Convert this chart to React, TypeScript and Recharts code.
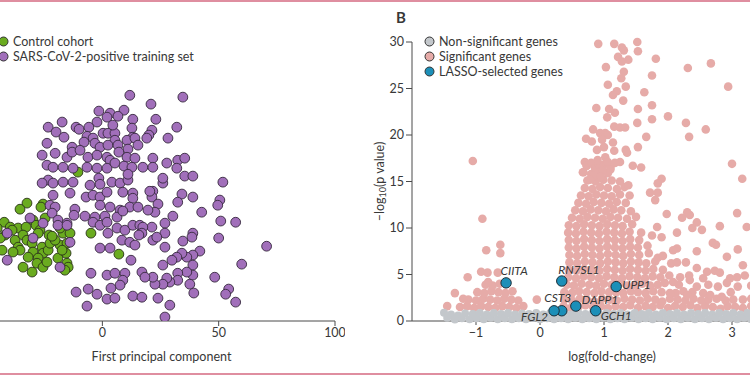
import { ScatterChart, Scatter, XAxis, YAxis } from 'recharts'

const FONT = 'Lato, "Open Sans", sans-serif'
const INK = '#383838'
const AXIS = '#4a4a4a'

// panel A: PCA, first principal component (x) vs second (y, axis cut off)
const pcaTicks = [0, 50, 100]

const controlCohort: [number, number][] = [
  [-10.5, 24.9], [-32.4, 11.6], [-25.5, 11.2], [-26.4, 9.9], [-42.2, 3.4], [-39.6, 1.3], [-36.2, 0.9],
  [-32.8, 1.3], [-29.8, 4.3], [-28.5, 2.1], [-26.8, 0.0], [-22.9, -2.1], [-16.9, -1.3], [-13.9, -1.3],
  [-41.8, -2.1], [-37.5, -4.3], [-34.1, -2.1], [-32.4, -4.3], [-36.2, -7.3], [-35.4, -8.6], [-30.2, -5.6],
  [-29.8, -9.4], [-25.9, -7.3], [-25.5, -9.9], [-23.3, -8.6], [-22.5, -5.6], [-27.6, -12.0], [-28.1, -14.2],
  [-25.5, -15.9], [-23.8, -13.7], [-18.2, -6.4], [-15.2, -5.6], [-15.6, -9.9], [-15.2, -14.2], [-14.7, -15.9],
  [-16.1, -17.2], [-30.2, -18.0], [-34.1, -15.9], [-38.4, -9.4], [-4.9, -1.3], [7.1, -10.3], [-35.4, 9.0],
  [-38.8, 0.0], [-43.9, -3.4], [-20.3, -4.3], [-31.9, -11.6], [-19.1, -12.0], [-21.6, -2.6], [-27.6, -1.3],
  [-18.2, 0.9], [-24.6, 5.2], [-43.1, -8.6], [-45.2, 0.9], [-17.3, -8.6],
]

const trainingSet: [number, number][] = [
  [11.8, 57.9], [34.6, 57.1], [20.9, 54.1], [-1.5, 51.1], [3.3, 50.2], [9.3, 51.5], [6.7, 48.9], [2.0, 48.5],
  [-2.3, 46.4], [-17.3, 46.4], [-23.3, 44.2], [-19.9, 42.1], [-16.5, 39.9], [-11.3, 44.2], [-10.0, 43.3],
  [-5.8, 44.2], [-6.6, 40.3], [-4.0, 39.5], [13.1, 47.6], [12.7, 43.8], [13.1, 39.9], [23.0, 47.6], [21.3, 42.9],
  [20.0, 40.8], [19.1, 39.5], [32.0, 44.2], [28.2, 39.5], [0.3, 41.6], [2.4, 41.6], [5.4, 41.6], [4.5, 45.1],
  [5.4, 38.6], [10.6, 38.6], [14.0, 39.5], [-23.8, 37.3], [-13.0, 35.6], [-7.9, 37.8], [-3.2, 37.3], [-1.0, 35.6],
  [2.4, 36.5], [6.7, 36.5], [11.0, 34.8], [15.3, 36.5], [-25.9, 32.2], [-20.3, 33.0], [-15.2, 31.3], [-13.0, 33.5],
  [-9.6, 34.3], [-6.2, 31.3], [-2.3, 32.2], [2.0, 31.3], [3.3, 30.0], [7.1, 33.5], [10.6, 31.3], [14.0, 30.9],
  [21.7, 30.9], [27.7, 28.8], [32.4, 30.0], [35.4, 30.9], [-23.8, 27.9], [-21.2, 27.0], [-16.9, 27.0],
  [-12.6, 26.6], [-6.6, 27.0], [-2.3, 26.6], [2.0, 26.6], [5.4, 28.8], [9.3, 27.5], [12.7, 27.0], [17.4, 27.0],
  [21.7, 27.0], [32.0, 26.6], [-23.3, 21.5], [-21.2, 20.2], [-16.9, 20.6], [-12.6, 20.6], [-5.3, 19.3],
  [-1.5, 22.3], [4.1, 20.6], [7.6, 20.2], [11.0, 21.5], [11.0, 24.0], [26.0, 20.2], [35.4, 23.2], [38.9, 23.2],
  [51.8, 20.6], [26.0, 22.3], [-25.9, 20.2], [-1.0, 19.7],
  [34.2, 15.5], [32.4, 12.0], [38.9, 14.2], [50.5, 12.9], [49.6, 10.7], [42.7, 7.7], [21.7, 16.7], [21.3, 14.2],
  [23.9, 11.2], [22.6, 7.7], [30.3, 6.0], [26.9, 3.0], [21.3, 1.3], [26.9, -1.3], [21.7, -4.3], [50.9, 3.9],
  [57.3, 3.4], [50.0, -3.4], [70.6, -6.9], [38.9, -1.3], [38.5, -3.0], [34.6, -4.7], [26.9, -7.3], [41.9, -9.0],
  [38.9, -10.7], [36.3, -11.6], [34.2, -9.9], [32.0, -11.6], [29.9, -12.9], [26.0, -15.0], [38.9, -15.0],
  [38.9, -19.3], [36.3, -18.0], [32.4, -18.5], [32.4, -21.5], [29.0, -22.3], [27.7, -20.6], [26.0, -23.2],
  [22.6, -23.2], [21.7, -20.2], [37.6, -23.2], [59.9, -14.6], [48.3, -20.2], [39.3, -27.0], [54.3, -25.3],
  [53.0, -27.5], [57.3, -30.9], [23.9, -29.2], [29.0, -32.2], [26.9, -37.3],
  [-21.2, 15.0], [-13.9, 15.9], [-7.0, 14.2], [-4.0, 15.0], [-1.0, 14.2], [2.0, 16.3], [8.8, 16.3], [13.1, 15.9],
  [13.1, 13.7], [20.4, 16.7], [-22.5, 10.7], [-20.3, 9.9], [-11.8, 9.0], [-1.0, 10.7], [3.3, 9.9], [7.6, 8.6],
  [11.8, 9.9], [15.3, 9.9], [19.6, 8.6], [-21.6, 7.3], [-12.2, 6.4], [-7.5, 6.0], [-3.2, 5.6], [1.1, 6.0],
  [6.3, 5.6], [8.8, 8.2], [-25.5, 3.0], [-19.1, 4.3], [-15.2, 3.0], [-4.0, 3.4], [-1.0, 2.1], [2.0, 3.4],
  [6.3, 0.9], [9.7, 0.0], [13.1, 2.1], [16.1, 2.1], [17.4, 1.3], [17.0, -1.3], [15.7, -2.1], [-31.1, 5.2],
  [-40.9, -1.3], [-29.8, -3.4], [2.4, -1.3], [8.4, -4.3], [11.8, -5.2], [14.0, -6.4], [23.4, -3.0], [-1.0, -7.7],
  [3.3, -7.7], [12.3, -12.9], [-40.9, -12.9], [-18.2, -15.9], [-4.9, -18.5], [2.0, -19.3], [5.4, -18.5],
  [9.7, -18.5], [8.8, -21.5], [7.6, -23.6], [3.7, -24.9], [17.0, -18.0], [18.3, -20.2], [-11.3, -26.6],
  [-6.1, -25.3], [-2.3, -27.5], [2.0, -29.6], [5.4, -29.2], [13.1, -28.3], [17.0, -28.8], [-6.6, -32.6],
  [-19.1, 2.1], [-15.2, 2.1], [-13.9, -5.2],
]

// panel B: volcano plot, log(fold-change) vs -log10(p)
const fcTicks = [-1, 0, 1, 2, 3]
const pTicks = [0, 5, 10, 15, 20, 25, 30]

const nonSignificant: [number, number][] = [
  [-1.5, 0.9], [-1.45, 0.35], [-1.39, 0.7], [-1.33, 0.15], [-1.28, 0.6], [-1.22, 0.3], [-1.17, 0.8], [-1.1, 0.2],
  [-1.05, 0.75], [-0.99, 0.3], [-0.94, 0.85], [-0.88, 0.2], [-0.83, 0.7], [-0.77, 0.35], [-0.72, 0.85],
  [-0.66, 0.2], [-0.61, 0.75], [-0.55, 0.3], [-0.5, 0.85], [-0.44, 0.2], [-0.39, 0.7], [-0.33, 0.3], [-0.28, 0.8],
  [-0.22, 0.2], [-0.17, 0.75], [-0.11, 0.35], [-0.06, 0.85], [0.0, 0.2], [0.05, 0.7], [0.11, 0.3], [0.16, 0.85],
  [0.22, 0.2], [0.27, 0.75], [0.33, 0.3], [0.38, 0.85], [0.44, 0.2], [0.49, 0.7], [0.55, 0.35], [0.6, 0.85],
  [0.66, 0.2], [0.71, 0.75], [0.77, 0.3], [0.82, 0.85], [0.88, 0.2], [0.93, 0.7], [0.99, 0.35], [1.04, 0.85],
  [1.1, 0.2], [1.15, 0.75], [1.21, 0.3], [1.26, 0.85], [1.32, 0.2], [1.37, 0.7], [1.43, 0.35], [1.48, 0.85],
  [1.54, 0.2], [1.59, 0.75], [1.65, 0.3], [1.7, 0.85], [1.76, 0.2], [1.81, 0.7], [1.87, 0.35], [1.92, 0.85],
  [1.98, 0.2], [2.03, 0.75], [2.09, 0.3], [2.14, 0.85], [2.2, 0.2], [2.25, 0.7], [2.31, 0.35], [2.36, 0.85],
  [2.42, 0.2], [2.47, 0.75], [2.53, 0.3], [2.58, 0.85], [2.64, 0.2], [2.69, 0.7], [2.75, 0.35], [2.8, 0.85],
  [2.86, 0.2], [2.91, 0.75], [2.97, 0.3], [3.02, 0.85], [3.08, 0.2], [3.13, 0.7], [3.19, 0.35], [3.24, 0.85],
  [3.3, 0.2], [3.35, 0.75], [3.41, 0.3], [3.46, 0.85],
]

// down-regulated significant genes
const significantLeft: [number, number][] = [
  [-1.25, 1.5], [-1.14, 1.6], [-1.03, 1.4], [-0.92, 1.6], [-0.81, 1.5], [-0.7, 1.4], [-0.59, 1.6], [-0.48, 1.5],
  [-0.37, 1.4], [-0.26, 1.6], [-1.12, 2.3], [-1.0, 2.2], [-0.89, 2.4], [-0.78, 2.3], [-0.67, 2.2], [-0.56, 2.4],
  [-0.45, 2.3], [-0.34, 2.2], [-0.98, 3.1], [-0.87, 3.0], [-0.76, 3.2], [-0.65, 3.1], [-0.54, 3.0], [-0.43, 3.2],
  [-0.85, 3.9], [-0.74, 3.8], [-0.63, 4.0], [-0.81, 4.2], [-1.45, 1.6], [-1.33, 3.0], [-1.13, 4.7], [-0.92, 5.3],
  [-0.82, 5.2], [-0.66, 5.2], [-0.84, 7.6], [-0.62, 7.3], [-0.62, 8.2], [-0.9, 11.0], [-1.05, 17.2], [-0.05, 2.3],
  [-1.2, 2.4],
]

// up-regulated genes, dense core
const significantCore: [number, number][] = [
  [0.37, 1.6], [0.48, 1.4], [0.6, 1.5], [0.71, 1.7], [0.83, 1.5], [0.95, 1.6], [1.06, 1.4], [1.18, 1.6], [1.3, 1.5],
  [1.41, 1.7], [1.53, 1.4], [1.65, 1.6], [1.76, 1.5], [1.88, 1.7], [2.0, 1.4], [2.11, 1.6], [2.23, 1.5], [2.35, 1.7],
  [2.46, 1.4], [2.58, 1.6], [2.7, 1.5], [2.82, 1.3], [2.93, 1.6], [3.05, 1.5], [3.17, 1.4], [3.3, 1.6], [3.42, 1.5],
  [0.38, 2.3], [0.5, 2.2], [0.62, 2.4], [0.73, 2.3], [0.85, 2.1], [0.97, 2.4], [1.09, 2.3], [1.2, 2.2], [1.32, 2.4],
  [1.44, 2.3], [1.56, 2.2], [1.68, 2.4], [1.8, 2.3], [1.91, 2.1], [2.03, 2.4], [2.15, 2.3], [2.27, 2.2], [2.4, 2.4],
  [2.52, 2.2], [2.63, 2.3], [2.76, 2.4], [2.9, 2.2], [3.02, 2.3], [3.3, 2.4], [3.44, 2.2],
  [0.38, 3.1], [0.5, 3.0], [0.61, 3.2], [0.73, 3.1], [0.85, 3.0], [0.96, 3.2], [1.08, 3.1], [1.19, 3.1], [1.3, 3.0],
  [1.42, 3.2], [1.53, 3.1], [1.65, 3.0], [1.77, 3.2], [1.9, 3.1], [2.12, 3.0], [2.24, 3.2], [2.38, 3.1], [2.55, 3.0],
  [2.98, 3.1], [3.38, 3.2],
  [0.42, 3.9], [0.53, 3.8], [0.65, 4.0], [0.77, 3.9], [0.88, 3.8], [1.0, 4.0], [1.12, 3.9], [1.24, 4.0], [1.36, 3.8],
  [1.48, 3.9], [1.6, 4.0], [1.72, 3.8], [1.84, 3.9], [2.17, 3.9], [3.3, 3.8],
  [0.44, 4.7], [0.56, 4.6], [0.68, 4.8], [0.8, 4.7], [0.92, 4.6], [1.04, 4.8], [1.16, 4.7], [1.28, 4.6], [1.4, 4.8],
  [1.52, 4.7], [1.64, 4.6], [1.76, 4.8], [1.88, 4.7], [2.02, 4.9],
  [0.45, 5.5], [0.57, 5.4], [0.69, 5.6], [0.81, 5.5], [0.93, 5.4], [1.05, 5.6], [1.17, 5.5], [1.29, 5.4], [1.41, 5.6],
  [1.53, 5.5], [1.65, 5.4], [1.77, 5.6], [1.92, 5.5],
  [0.46, 6.3], [0.58, 6.2], [0.7, 6.4], [0.82, 6.3], [0.94, 6.2], [1.06, 6.4], [1.18, 6.3], [1.3, 6.2], [1.42, 6.4],
  [1.54, 6.3], [1.66, 6.2], [1.8, 6.4],
  [0.46, 7.1], [0.58, 7.0], [0.7, 7.2], [0.82, 7.1], [0.94, 7.0], [1.06, 7.2], [1.18, 7.1], [1.3, 7.0], [1.42, 7.2],
  [1.55, 7.1], [1.7, 7.3],
  [0.45, 7.9], [0.57, 7.8], [0.69, 8.0], [0.81, 7.9], [0.93, 7.8], [1.05, 8.0], [1.17, 7.9], [1.29, 7.8], [1.41, 8.0],
  [1.53, 7.9], [1.68, 8.1],
  [0.45, 8.7], [0.57, 8.6], [0.69, 8.8], [0.81, 8.7], [0.93, 8.6], [1.05, 8.8], [1.17, 8.7], [1.29, 8.6], [1.41, 8.8],
  [1.55, 8.7],
  [0.44, 9.5], [0.56, 9.4], [0.68, 9.6], [0.8, 9.5], [0.92, 9.4], [1.04, 9.6], [1.16, 9.5], [1.28, 9.4], [1.4, 9.6],
  [1.58, 9.5],
  [0.45, 10.3], [0.57, 10.2], [0.69, 10.4], [0.81, 10.3], [0.93, 10.2], [1.05, 10.4], [1.17, 10.3], [1.29, 10.2],
  [1.44, 10.4],
  [0.5, 11.1], [0.62, 11.0], [0.74, 11.2], [0.86, 11.1], [0.98, 11.0], [1.1, 11.2], [1.22, 11.1], [1.36, 11.0],
  [1.5, 11.2],
  [0.55, 11.9], [0.67, 11.8], [0.79, 12.0], [0.91, 11.9], [1.03, 11.8], [1.15, 12.0], [1.27, 11.9], [1.42, 11.8],
  [0.6, 12.7], [0.72, 12.6], [0.84, 12.8], [0.96, 12.7], [1.08, 12.6], [1.2, 12.8], [1.34, 12.7],
  [0.64, 13.5], [0.76, 13.4], [0.88, 13.6], [1.0, 13.5], [1.12, 13.4], [1.25, 13.6], [1.4, 13.5],
  [0.7, 14.3], [0.82, 14.2], [0.94, 14.4], [1.06, 14.3], [1.2, 14.2], [1.32, 14.4],
  [0.74, 15.1], [0.87, 15.0], [0.99, 15.2], [1.12, 15.1], [1.25, 15.0],
  [0.68, 16.0], [0.8, 15.8], [0.93, 16.0], [1.06, 15.9], [0.73, 16.7], [0.86, 16.6], [0.99, 16.8], [1.1, 16.5],
]

// up-regulated genes, scattered outliers
const significantOuter: [number, number][] = [
  [0.91, 29.8], [1.16, 29.8], [1.28, 29.4], [1.31, 29.1], [1.52, 30.0], [1.53, 29.0], [1.22, 28.4], [1.38, 28.1],
  [1.28, 27.9], [1.81, 28.2], [1.03, 27.3], [2.31, 27.2], [2.67, 27.7], [1.31, 26.8], [1.27, 26.1], [1.75, 26.4],
  [1.06, 25.4], [1.34, 25.2], [1.2, 24.7], [1.14, 24.3], [1.63, 24.6], [2.94, 25.2], [1.3, 23.7], [0.88, 22.9],
  [1.08, 22.8], [1.17, 22.4], [1.53, 22.8], [1.75, 23.2], [1.05, 21.9], [2.0, 22.0], [1.75, 21.7], [1.52, 21.3],
  [2.28, 21.3], [0.83, 20.6], [1.16, 20.9], [1.25, 20.8], [1.33, 20.8], [2.59, 20.6], [0.94, 20.2], [1.02, 20.2],
  [1.06, 20.0], [1.66, 19.8], [2.33, 19.8], [0.72, 19.6], [0.81, 19.3], [0.97, 19.5], [1.14, 19.2], [1.0, 18.7],
  [0.89, 18.4], [1.16, 18.3], [1.34, 18.4], [1.36, 18.1], [1.53, 18.7], [1.02, 17.6], [1.06, 17.1], [1.25, 17.1],
  [1.17, 17.0], [0.7, 17.1], [0.73, 16.7], [1.45, 16.7], [1.58, 16.5], [3.0, 16.9], [0.67, 16.0], [3.16, 15.3],
  [1.9, 15.3], [1.84, 14.8], [1.38, 14.6], [0.8, 17.0], [0.86, 16.4], [0.92, 16.8], [0.98, 16.2], [0.84, 15.6],
  [0.95, 15.5], [1.1, 16.3], [0.78, 15.2], [0.9, 17.3],
  [1.72, 13.8], [1.84, 13.8], [1.8, 13.0], [1.98, 11.5], [2.3, 11.7], [2.34, 11.4], [2.22, 11.1], [3.08, 11.6],
  [2.45, 10.6], [2.38, 10.0], [2.53, 9.8], [2.81, 10.2], [3.23, 10.1], [2.14, 9.5], [1.83, 10.1], [1.9, 9.0],
  [1.75, 9.2], [2.7, 8.4], [2.75, 8.2], [3.09, 7.7], [2.45, 7.5], [2.14, 7.8], [2.08, 7.6], [2.92, 6.9], [1.84, 6.8],
  [1.92, 7.0], [2.05, 6.2], [2.14, 6.3], [2.28, 6.3], [3.17, 6.0], [2.45, 5.7], [2.61, 5.3], [2.73, 5.4], [2.81, 5.2],
  [2.33, 4.9], [2.19, 4.7], [2.34, 4.4], [2.08, 4.2], [2.97, 4.6], [3.08, 4.7], [3.2, 4.9], [1.95, 4.1], [2.55, 4.6],
  [2.45, 3.7], [2.63, 3.9], [2.78, 3.7], [2.92, 4.1], [3.09, 3.7], [2.03, 3.0], [2.3, 2.8], [2.66, 2.8], [2.84, 2.6],
  [3.17, 2.3],
]

const lassoGenes = ['CIITA', 'RN7SL1', 'UPP1', 'CST3', 'DAPP1', 'FGL2', 'GCH1']
const lassoFoldChange = [-0.53, 0.34, 1.19, 0.34, 0.56, 0.22, 0.87]
const lassoLogP = [4.1, 4.3, 3.7, 1.1, 1.6, 1.1, 1.1]

// where each gene name sits relative to its dot
const geneLabelOffset: Record<string, [number, number, 'start' | 'middle' | 'end']> = {
  CIITA: [8, -12, 'middle'],
  RN7SL1: [17, -12, 'middle'],
  UPP1: [6, -2, 'start'],
  CST3: [-4, -13, 'middle'],
  DAPP1: [6, -7, 'start'],
  FGL2: [-6, 6, 'end'],
  GCH1: [5, 5, 'start'],
}

const pts = (rows: [number, number][]) => rows.map(([x, y]) => ({ x, y }))
const lassoData = lassoGenes.map((gene, i) => ({ gene, x: lassoFoldChange[i], y: lassoLogP[i] }))

const dot = (r: number, fill: string, stroke?: string) => (p: any) => (
  <circle cx={p.cx} cy={p.cy} r={r} fill={fill} stroke={stroke ?? 'none'} strokeWidth={stroke ? 0.9 : 0} />
)

const GeneDot = (p: any) => {
  const [dx, dy, anchor] = geneLabelOffset[p.payload.gene]
  return (
    <g>
      <circle cx={p.cx} cy={p.cy} r={5.2} fill="#1c8fb8" stroke="#1d2f3a" strokeWidth={1} />
      <text x={p.cx + dx} y={p.cy + dy} textAnchor={anchor} dominantBaseline="central"
        fontFamily={FONT} fontStyle="italic" fontSize={12} fill={INK}>{p.payload.gene}</text>
    </g>
  )
}

const YTitle = (props: any) => {
  const vb = props.viewBox ?? { x: 12, y: 42, width: 40, height: 279 }
  const x = vb.x + 7
  const y = vb.y + vb.height / 2
  return (
    <text x={x} y={y} transform={`rotate(-90 ${x} ${y})`} textAnchor="middle" dominantBaseline="central"
      fontFamily={FONT} fontSize={12.5} fill={INK}>
      –log<tspan fontSize={9} dy={3}>10</tspan><tspan dy={-3}>(p value)</tspan>
    </text>
  )
}

const tick = { fill: INK, fontSize: 12.5, fontFamily: FONT }

const LegendRow = ({ color, label }: { color: string; label: string }) => (
  <div style={{ display: 'flex', alignItems: 'center', height: 15 }}>
    <svg width={11} height={11} style={{ marginRight: 4 }}>
      <circle cx={5.5} cy={5.5} r={4.5} fill={color} stroke="#333" strokeWidth={1} />
    </svg>
    <span>{label}</span>
  </div>
)

export default function App() {
  return (
    <div style={{ position: 'fixed', left: 0, top: 0, width: 750, height: 375, overflow: 'hidden', background: '#fff', fontFamily: FONT, color: INK }}>
      <div style={{ position: 'absolute', left: 0, top: 0, width: 750, height: 2, background: '#df8ea0' }} />
      <div style={{ position: 'absolute', left: 0, top: 373, width: 750, height: 2, background: '#df8ea0' }} />

      <div style={{ position: 'absolute', left: 0, top: 0 }}>
        <ScatterChart width={345} height={375} margin={{ top: 17, right: 10, bottom: 0, left: 0 }}>
          <XAxis type="number" dataKey="x" domain={[-44, 100]} ticks={pcaTicks} allowDataOverflow
            stroke={AXIS} tick={tick} tickSize={5} tickMargin={2} height={54}
            label={{ value: 'First principal component', position: 'insideBottom', offset: 14, dx: -6, fill: INK, fontSize: 12.5, fontFamily: FONT }} />
          <YAxis type="number" dataKey="y" domain={[-39, 91.5]} hide allowDataOverflow />
          <Scatter data={pts(controlCohort)} shape={dot(4.9, '#6aab1f', '#2a3318')} isAnimationActive={false} />
          <Scatter data={pts(trainingSet)} shape={dot(4.9, '#a16fba', '#35283d')} isAnimationActive={false} />
        </ScatterChart>
      </div>
      <div style={{ position: 'absolute', left: -2, top: 34, fontSize: 12.5 }}>
        <LegendRow color="#6aab1f" label="Control cohort" />
        <LegendRow color="#a16fba" label="SARS-CoV-2-positive training set" />
      </div>

      <div style={{ position: 'absolute', left: 360, top: 0 }}>
        <ScatterChart width={410} height={375} margin={{ top: 42, right: 6, bottom: 0, left: 12 }}>
          <XAxis type="number" dataKey="x" domain={[-2, 3.5]} ticks={fcTicks}
            tickFormatter={(v: number) => (v < 0 ? `−${-v}` : `${v}`)}
            stroke={AXIS} tick={tick} tickSize={4} tickMargin={3} height={54}
            label={{ value: 'log(fold-change)', position: 'insideBottom', offset: 14, dx: 24, fill: INK, fontSize: 12.5, fontFamily: FONT }} />
          <YAxis type="number" dataKey="y" domain={[0, 30]} ticks={pTicks} width={40}
            stroke={AXIS} tick={tick} tickSize={6} tickMargin={2} label={<YTitle />} />
          <Scatter data={pts(significantLeft)} shape={dot(4.3, '#e6aba8')} isAnimationActive={false} />
          <Scatter data={pts(significantCore)} shape={dot(4.3, '#e6aba8')} isAnimationActive={false} />
          <Scatter data={pts(significantOuter)} shape={dot(4.3, '#e6aba8')} isAnimationActive={false} />
          <Scatter data={pts(nonSignificant)} shape={dot(4, '#c3c7cb')} isAnimationActive={false} />
          <Scatter data={lassoData} shape={GeneDot} isAnimationActive={false} />
        </ScatterChart>
      </div>
      <div style={{ position: 'absolute', left: 396, top: 8, fontSize: 15, fontWeight: 700 }}>B</div>
      <div style={{ position: 'absolute', left: 424, top: 34, fontSize: 12.5 }}>
        <LegendRow color="#c3c7cb" label="Non-significant genes" />
        <LegendRow color="#e6aba8" label="Significant genes" />
        <LegendRow color="#1c8fb8" label="LASSO-selected genes" />
      </div>
    </div>
  )
}
